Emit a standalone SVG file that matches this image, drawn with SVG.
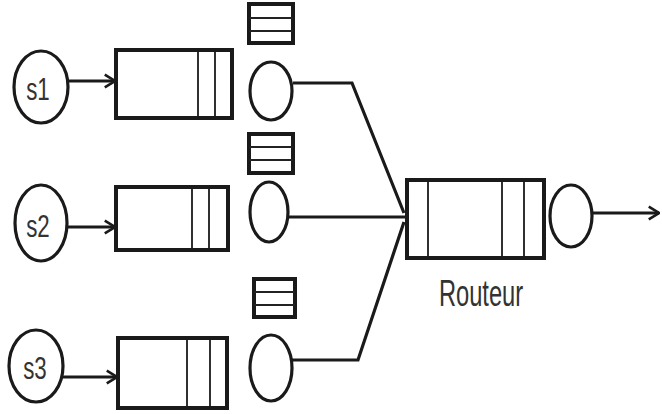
<svg xmlns="http://www.w3.org/2000/svg" width="662" height="414" viewBox="0 0 662 414">
<style>
.src{fill:#fff;stroke:#1a1a1a;stroke-width:3.2}
.q{fill:#fff;stroke:#1a1a1a;stroke-width:4}
.qi{stroke:#1a1a1a;stroke-width:1.8}
.srv{fill:#fff;stroke:#1a1a1a;stroke-width:3.2}
.stb{fill:#fff;stroke:#1a1a1a;stroke-width:4}
.sti{stroke:#222;stroke-width:2}
.lbl{font-family:"Liberation Sans",Arial,sans-serif;fill:#333;}
.ln{fill:none;stroke:#1a1a1a;stroke-width:3.2}
</style>
<defs>
<marker id="ah" viewBox="0 0 10 10" refX="9" refY="5" markerWidth="4" markerHeight="5" orient="auto" markerUnits="strokeWidth">
<path d="M1,0 L9,5 L1,10" fill="none" stroke="#1a1a1a" stroke-width="2"/>
</marker>
</defs>
<g id="connectors">
<line class="ln" x1="68" y1="81" x2="115" y2="81" marker-end="url(#ah)"/>
<line class="ln" x1="67" y1="227" x2="115" y2="227" marker-end="url(#ah)"/>
<line class="ln" x1="63" y1="377" x2="117" y2="377" marker-end="url(#ah)"/>
<polyline class="ln" points="293,83 352,83 404,213"/>
<line class="ln" x1="288" y1="217" x2="405" y2="217"/>
<polyline class="ln" points="292,360 358,360 404,222"/>
<line class="ln" x1="592" y1="213" x2="659" y2="213" marker-end="url(#ah)"/>
</g>
<g id="s1">
<ellipse class="src" cx="41" cy="87" rx="27" ry="36"/>
<text class="lbl" transform="translate(38,100) scale(0.72,1)" text-anchor="middle" font-size="31">s1</text>
</g>
<g id="q1">
<rect class="q" x="116" y="50" width="116" height="68"/>
<line class="qi" x1="198" y1="50" x2="198" y2="118"/>
<line class="qi" x1="215" y1="50" x2="215" y2="118"/>
</g>
<g id="st1">
<rect class="stb" x="249" y="4" width="44" height="39"/>
<line class="sti" x1="249" y1="18" x2="293" y2="18"/>
<line class="sti" x1="249" y1="31" x2="293" y2="31"/>
</g>
<g id="srv1"><ellipse class="srv" cx="271" cy="91" rx="21" ry="29"/></g>
<g id="s2">
<ellipse class="src" cx="41" cy="223" rx="26" ry="38"/>
<text class="lbl" transform="translate(38,237) scale(0.72,1)" text-anchor="middle" font-size="31">s2</text>
</g>
<g id="q2">
<rect class="q" x="116" y="187" width="112" height="63"/>
<line class="qi" x1="192" y1="187" x2="192" y2="250"/>
<line class="qi" x1="209" y1="187" x2="209" y2="250"/>
</g>
<g id="st2">
<rect class="stb" x="249" y="134" width="44" height="39"/>
<line class="sti" x1="249" y1="147" x2="293" y2="147"/>
<line class="sti" x1="249" y1="160" x2="293" y2="160"/>
</g>
<g id="srv2"><ellipse class="srv" cx="269" cy="212" rx="19" ry="30"/></g>
<g id="s3">
<ellipse class="src" cx="36" cy="366" rx="27" ry="36"/>
<text class="lbl" transform="translate(35,379) scale(0.72,1)" text-anchor="middle" font-size="31">s3</text>
</g>
<g id="q3">
<rect class="q" x="118" y="338" width="109" height="70"/>
<line class="qi" x1="187" y1="338" x2="187" y2="408"/>
<line class="qi" x1="210" y1="338" x2="210" y2="408"/>
</g>
<g id="st3">
<rect class="stb" x="254" y="279" width="41" height="38"/>
<line class="sti" x1="254" y1="292" x2="295" y2="292"/>
<line class="sti" x1="254" y1="305" x2="295" y2="305"/>
</g>
<g id="srv3"><ellipse class="srv" cx="271" cy="368" rx="21" ry="33"/></g>
<g id="router">
<rect class="q" x="407" y="180" width="137" height="78"/>
<line class="qi" x1="428" y1="180" x2="428" y2="258"/>
<line class="qi" x1="502" y1="180" x2="502" y2="258"/>
<line class="qi" x1="524" y1="180" x2="524" y2="258"/>
<ellipse class="srv" cx="571" cy="216" rx="21" ry="31"/>
<text class="lbl" transform="translate(481,306) scale(0.64,1)" text-anchor="middle" font-size="37" fill="#444">Routeur</text>
</g>
</svg>
